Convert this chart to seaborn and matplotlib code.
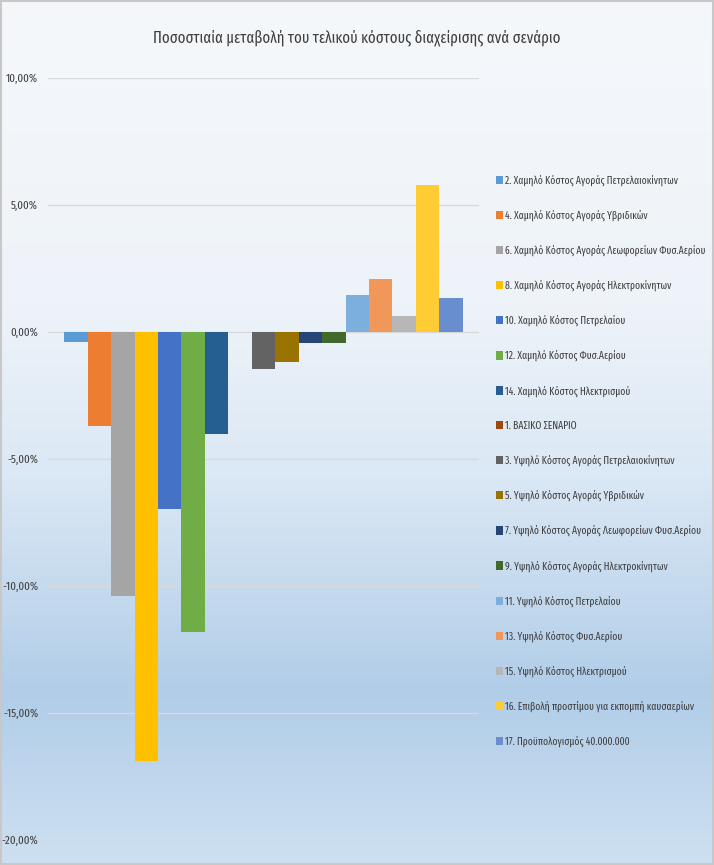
import numpy as np
import pandas as pd
import matplotlib
matplotlib.use("Agg")
import matplotlib.pyplot as plt
import seaborn as sns
from matplotlib.colors import LinearSegmentedColormap
from matplotlib.ticker import FuncFormatter

# Data (percent change of final management cost per scenario)
scenarios = [
    "2. Χαμηλό Κόστος Αγοράς Πετρελαιοκίνητων",
    "4. Χαμηλό Κόστος Αγοράς Υβριδικών",
    "6. Χαμηλό Κόστος Αγοράς Λεωφορείων Φυσ.Αερίου",
    "8. Χαμηλό Κόστος Αγοράς Ηλεκτροκίνητων",
    "10. Χαμηλό Κόστος Πετρελαίου",
    "12. Χαμηλό Κόστος Φυσ.Αερίου",
    "14. Χαμηλό Κόστος Ηλεκτρισμού",
    "1. ΒΑΣΙΚΟ ΣΕΝΑΡΙΟ",
    "3. Υψηλό Κόστος Αγοράς Πετρελαιοκίνητων",
    "5. Υψηλό Κόστος Αγοράς Υβριδικών",
    "7. Υψηλό Κόστος Αγοράς Λεωφορείων Φυσ.Αερίου",
    "9. Υψηλό Κόστος Αγοράς Ηλεκτροκίνητων",
    "11. Υψηλό Κόστος Πετρελαίου",
    "13. Υψηλό Κόστος Φυσ.Αερίου",
    "15. Υψηλό Κόστος Ηλεκτρισμού",
    "16. Επιβολή προστίμου για εκπομπή καυσαερίων",
    "17. Προϋπολογισμός 40.000.000",
]
changes = [-0.40, -3.70, -10.40, -16.90, -6.95, -11.80, -4.00, 0.0,
           -1.45, -1.17, -0.42, -0.42, 1.46, 2.09, 0.63, 5.79, 1.34]
colors = ["#5b9bd5", "#ed7d31", "#a5a5a5", "#ffc000", "#4472c4", "#70ad47",
          "#255e91", "#9e480e", "#636363", "#997300", "#264478", "#43682b",
          "#7cafdd", "#f1975a", "#b7b7b7", "#ffcd33", "#698ed0"]

df = pd.DataFrame({"group": [""] * len(scenarios), "scenario": scenarios, "change": changes})

sns.set_theme(style="white")
plt.rcParams["font.family"] = ["Fira Sans Extra Condensed", "DejaVu Sans"]

fig = plt.figure(figsize=(7.14, 8.65), dpi=100)

# gradient background
bg = fig.add_axes([0, 0, 1, 1], zorder=0)
grad = LinearSegmentedColormap.from_list(
    "bg", [(0, "#f5f8fb"), (0.35, "#eef3f9"), (0.55, "#dbe8f5"),
           (0.8, "#b1cde8"), (1.0, "#cde0f1")])
bg.imshow(np.linspace(0, 1, 256).reshape(-1, 1), aspect="auto", cmap=grad,
          extent=[0, 1, 0, 1])
bg.add_patch(plt.Rectangle((0.001, 0.001), 0.998, 0.998, fill=False,
                           edgecolor="#c8c8c8", lw=1.5))
bg.set_axis_off()

ax = fig.add_axes([48 / 714, 1 - 840 / 865, (479 - 48) / 714, (840 - 78) / 865], zorder=1)
ax.patch.set_alpha(0)

sns.barplot(data=df, x="group", y="change", hue="scenario", hue_order=scenarios,
            palette=colors, width=0.925, saturation=1, ax=ax, legend=True,
            edgecolor="none")

ax.set_ylim(-20, 10)
ax.set_xlim(-0.5, 0.5)
ax.set_yticks(np.arange(-20, 10.1, 5))
ax.yaxis.set_major_formatter(FuncFormatter(lambda v, p: f"{v:.2f}%".replace(".", ",")))
ax.tick_params(axis="y", labelsize=8.5, labelcolor="#404040", length=0, pad=7)
ax.set_xticks([])
ax.set_xlabel("")
ax.set_ylabel("")
ax.grid(axis="y", color="#d9d9d9", lw=1)
ax.set_axisbelow(True)
for s in ax.spines.values():
    s.set_visible(False)

handles, labels = ax.get_legend_handles_labels()
ax.get_legend().remove()
fig.legend(handles, labels, loc="upper left", bbox_to_anchor=(487 / 714, 1 - 165 / 865),
           frameon=False, fontsize=7.5, labelcolor="#404040", handlelength=0.6,
           handleheight=0.85, handletextpad=0.25, labelspacing=2.28)

fig.text(0.5, 1 - 38 / 865,
         "Ποσοστιαία μεταβολή του τελικού κόστους διαχείρισης ανά σενάριο",
         ha="center", va="center", fontsize=11.5, color="#404040")

fig.savefig("out.png", dpi=100)
